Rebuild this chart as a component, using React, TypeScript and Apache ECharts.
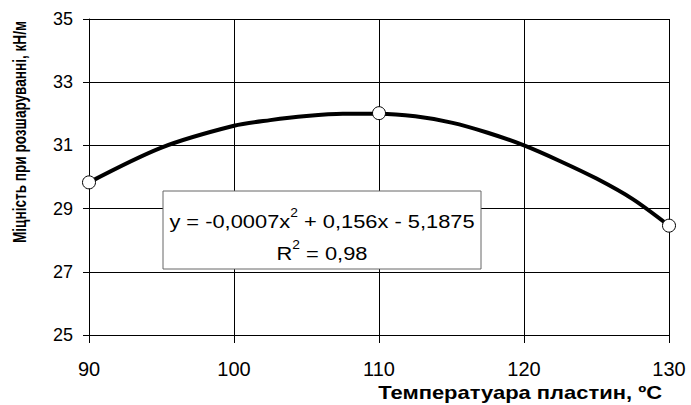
import React, { useEffect, useRef } from "react";
import * as echarts from "echarts";

const curveX = [90, 95, 100, 102.5, 105, 107.5, 110, 112.5, 115, 117.5, 120, 122.5, 125, 127.5, 130];
const curveY = [29.83, 30.93, 31.62, 31.8, 31.93, 32.0, 32.0, 31.92, 31.72, 31.4, 31.0, 30.5, 29.95, 29.3, 28.46];
const pointX = [90, 110, 130];
const pointY = [29.83, 32.02, 28.46];
const xTitle = "Температуара пластин, ºС";
const yTitle = "Міцність при розшаруванні, кН/м";
const eqMain1 = "y = -0,0007x";
const eqMain2 = " + 0,156x - 5,1875";
const r2Label = "R";
const r2Value = " = 0,98";

const FONT = "'Liberation Sans', Arial, sans-serif";

export default function App() {
  const ref = useRef<HTMLDivElement>(null);
  useEffect(() => {
    if (!ref.current) return;
    const chart = echarts.init(ref.current, null, { renderer: "svg" });
    chart.setOption({
      animation: false,
      backgroundColor: "#fff",
      grid: { left: 89, right: 22, top: 19, bottom: 70, containLabel: false },
      xAxis: {
        type: "value",
        min: 90,
        max: 130,
        interval: 10,
        axisLine: { show: true, lineStyle: { color: "#000", width: 1 } },
        axisTick: { show: true, inside: false, length: 8, lineStyle: { color: "#000" } },
        axisLabel: { color: "#000", fontSize: 20, fontFamily: FONT, margin: 24 },
        splitLine: { show: true, lineStyle: { color: "#000", width: 1 } },
      },
      yAxis: {
        type: "value",
        min: 25,
        max: 35,
        interval: 2,
        axisLine: { show: true, lineStyle: { color: "#000", width: 1 } },
        axisTick: { show: true, inside: false, length: 6, lineStyle: { color: "#000" } },
        axisLabel: { color: "#000", fontSize: 18, fontFamily: FONT, margin: 16 },
        splitLine: { show: true, lineStyle: { color: "#000", width: 1 } },
      },
      series: [
        {
          type: "line",
          data: curveX.map((x, i) => [x, curveY[i]]),
          smooth: 0.3,
          showSymbol: false,
          lineStyle: { color: "#000", width: 4 },
          z: 3,
        },
        {
          type: "scatter",
          data: pointX.map((x, i) => [x, pointY[i]]),
          symbol: "circle",
          symbolSize: 13,
          itemStyle: { color: "#fff", borderColor: "#000", borderWidth: 1, opacity: 1 },
          z: 5,
        },
      ],
      graphic: [
        {
          type: "rect",
          shape: { x: 163, y: 191, width: 318, height: 78 },
          style: { fill: "#fff", stroke: "#666", lineWidth: 1 },
          z: 10,
        },
        {
          type: "text",
          x: 322,
          y: 219,
          scaleX: 1.15,
          z: 11,
          style: {
            text: `{a|${eqMain1}}{s|2}{a|${eqMain2}}`,
            align: "center",
            verticalAlign: "middle",
            rich: {
              a: { fontSize: 19, fontFamily: FONT, fill: "#000", lineHeight: 24, verticalAlign: "bottom" },
              s: { fontSize: 12, fontFamily: FONT, fill: "#000", lineHeight: 24, verticalAlign: "top" },
            },
          },
        },
        {
          type: "text",
          x: 322,
          y: 251,
          scaleX: 1.15,
          z: 11,
          style: {
            text: `{a|${r2Label}}{s|2}{a|${r2Value}}`,
            align: "center",
            verticalAlign: "middle",
            rich: {
              a: { fontSize: 19, fontFamily: FONT, fill: "#000", lineHeight: 24, verticalAlign: "bottom" },
              s: { fontSize: 12, fontFamily: FONT, fill: "#000", lineHeight: 24, verticalAlign: "top" },
            },
          },
        },
        {
          type: "text",
          x: 662,
          y: 393,
          scaleX: 1.22,
          style: {
            text: xTitle,
            align: "right",
            verticalAlign: "middle",
            font: `bold 18px ${FONT}`,
            fill: "#000",
          },
        },
        {
          type: "text",
          x: 20,
          y: 132,
          rotation: Math.PI / 2,
          scaleX: 0.755,
          style: {
            text: yTitle,
            align: "center",
            verticalAlign: "middle",
            font: `bold 18px ${FONT}`,
            fill: "#000",
          },
        },
      ],
    });
    return () => chart.dispose();
  }, []);
  return <div ref={ref} style={{ width: 691, height: 405, position: "absolute", left: 0, top: 0 }} />;
}
